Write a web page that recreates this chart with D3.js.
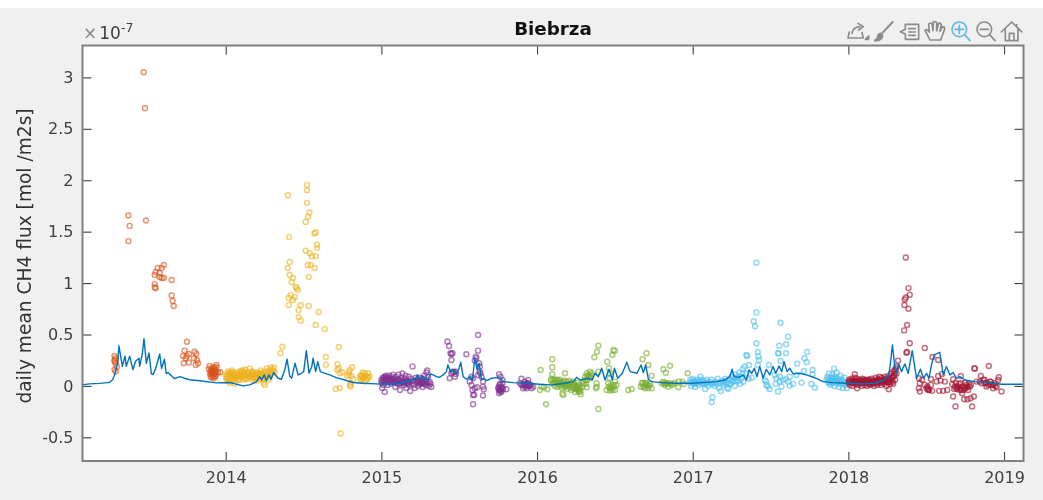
<!DOCTYPE html>
<html><head><meta charset="utf-8">
<script src="https://cdnjs.cloudflare.com/ajax/libs/d3/7.8.5/d3.min.js"></script>
<style>html,body{margin:0;padding:0;background:#fff;overflow:hidden}svg{display:block;filter:blur(0.4px)}text{font-family:"DejaVu Sans",sans-serif}</style>
</head><body><svg id="c" width="1043" height="500"></svg>
<script>
const title = "Biebrza";
const yLabel = "daily mean CH4 flux [mol /m2s]";
const xTicks = [2014,2015,2016,2017,2018,2019];
const yTicks = [-0.5,0,0.5,1,1.5,2,2.5,3];
const yTickLabels = ["-0.5","0","0.5","1","1.5","2","2.5","3"];
const seriesColors = ["#D95319","#EDB120","#7E2F8E","#77AC30","#4DBEEE","#A2142F"];

const modelFlux = [[13.075,.01],[13.126,.02],[13.19,.025],[13.254,.035],[13.274,.06],[13.287,.11],[13.296,.17],[13.306,.22],[13.314,.39],[13.336,.19],[13.353,.29],[13.361,.19],[13.383,.29],[13.404,.16],[13.421,.24],[13.443,.27],[13.447,.19],[13.464,.31],[13.475,.46],[13.49,.22],[13.507,.32],[13.522,.12],[13.533,.11],[13.55,.17],[13.576,.31],[13.588,.17],[13.606,.26],[13.618,.12],[13.629,.13],[13.651,.10],[13.672,.07],[13.704,.09],[13.768,.06],[13.833,.05],[13.94,.03],
[14.026,.033],[14.111,0],[14.154,.01],[14.197,.04],[14.218,.09],[14.231,.06],[14.248,.107],[14.261,.052],[14.278,.107],[14.291,.065],[14.308,.13],[14.336,.075],[14.358,.065],[14.379,.155],[14.394,.26],[14.411,.097],[14.424,.075],[14.445,.22],[14.465,.107],[14.486,.123],[14.501,.139],[14.518,.343],[14.535,.123],[14.553,.188],[14.561,.27],[14.578,.139],[14.591,.236],[14.608,.139],[14.625,.13],[14.668,.107],[14.711,.081],[14.765,.058],[14.818,.033],[14.882,.026],[14.968,.02],
[15.075,.016],[15.14,.033],[15.193,.058],[15.215,.065],[15.232,.107],[15.247,.065],[15.268,.097],[15.281,.065],[15.30,.065],[15.315,.117],[15.332,.107],[15.354,.09],[15.375,.084],[15.397,.107],[15.418,.139],[15.427,.204],[15.444,.139],[15.465,.155],[15.482,.123],[15.497,.162],[15.51,.23],[15.525,.09],[15.547,.065],[15.568,.09],[15.585,.058],[15.60,.269],[15.615,.155],[15.628,.22],[15.643,.058],[15.658,.074],[15.675,.052],[15.707,.074],[15.739,.081],[15.765,.074],[15.782,.042],[15.846,.032],[15.932,.026],
[16.018,.016],[16.094,.01],[16.18,.026],[16.233,.042],[16.255,.084],[16.276,.058],[16.308,.065],[16.33,.074],[16.355,.058],[16.373,.123],[16.394,.09],[16.415,.172],[16.437,.058],[16.462,.162],[16.484,.058],[16.497,.172],[16.518,.074],[16.548,.123],[16.576,.23],[16.598,.139],[16.625,.13],[16.642,.123],[16.668,.204],[16.683,.13],[16.698,.204],[16.715,.065],[16.737,.042],[16.801,.032],[16.887,.026],[16.994,.026],
[17.066,.032],[17.152,.042],[17.206,.058],[17.238,.09],[17.253,.162],[17.266,.09],[17.302,.084],[17.323,.107],[17.345,.058],[17.362,.155],[17.379,.123],[17.396,.172],[17.413,.09],[17.431,.188],[17.452,.074],[17.473,.162],[17.495,.107],[17.516,.188],[17.533,.123],[17.555,.194],[17.572,.139],[17.587,.236],[17.606,.139],[17.623,.172],[17.645,.117],[17.688,.123],[17.73,.107],[17.795,.074],[17.837,.042],[17.902,.032],[17.987,.026],
[18.084,.02],[18.17,.026],[18.234,.058],[18.26,.107],[18.27,.22],[18.283,.398],[18.298,.188],[18.311,.123],[18.324,.214],[18.341,.139],[18.363,.214],[18.384,.123],[18.41,.343],[18.438,.074],[18.463,.162],[18.483,.074],[18.502,.123],[18.517,.074],[18.534,.204],[18.551,.301],[18.587,.327],[18.609,.107],[18.63,.188],[18.652,.107],[18.673,.13],[18.695,.074],[18.716,.091],[18.748,.058],[18.812,.042],[18.898,.033],[18.984,.016],[19.12,.016]];

const obs2013 = [[.473,3.05],[.481,2.70],[.375,1.657],[.383,1.556],[.488,1.608],[.375,1.408],
[.55,1.107],[.563,1.146],[.544,1.078],[.589,1.146],[.602,1.175],[.576,1.097],[.602,1.05],[.544,.99],[.55,.95],[.544,.96],[.589,1.05],[.576,1.06],[.653,1.03],[.653,.88],[.659,.825],[.666,.777],
[.286,.29],[.293,.27],[.286,.24],[.293,.22],[.301,.19],[.286,.16],[.293,.14],[.286,.25],
[.751,.43],[.736,.343],[.726,.29],[.764,.31],[.743,.27],[.73,.22],[.764,.227],[.80,.333],[.811,.31],[.796,.27],[.815,.252],[.822,.22],[.807,.204],[.75,.29],
[.897,.194],[.94,.204],[.965,.133],[.908,.172],[.929,.162],[.918,.139],[.94,.139],[.908,.123],[.929,.117],[.914,.091],[.901,.139],[.923,.075],[.94,.181],[.95,.13],[.892,.162],[.91,.15],[.935,.098],[.925,.181],[.915,.11],[.905,.085],[.93,.14],[.92,.12],[.91,.13],[.90,.11],[.93,.09],[.92,.16]];

const obs2014 = [[.0,.10],[.005,.07],[.01,.12],[.012,.09],[.015,.14],[.02,.11],[.022,.06],[.025,.03],[.03,.10],[.032,.13],[.035,.08],[.04,.15],[.045,.09],[.05,.12],[.05,.06],[.055,.02],[.06,.10],[.065,.07],[.07,.13],[.075,.09],[.08,.11],[.085,.06],[.09,.14],[.095,.08],[.10,.12],[.105,.15],[.11,.09],[.115,.06],[.12,.12],[.125,.16],[.13,.10],[.135,.07],[.14,.13],[.145,.09],[.15,.11],[.155,.17],[.16,.08],[.165,.12],[.17,.06],[.175,.10],[.18,.13],[.185,.09],[.19,.07],[.195,.11],[.20,.05],[.205,.13],[.21,.09],[.215,.12],[.22,.07],[.225,.15],[.23,.10],[.235,.06],[.24,.13],[.245,.03],[.25,.01],[.255,.09],[.26,.14],[.265,.17],[.27,.11],[.275,.06],[.28,.15],[.285,.09],[.29,.18],[.295,.12],[.30,.16],[.305,.14],[.31,.18],[.315,.13],
[.008,.08],[.018,.05],[.028,.12],[.038,.07],[.048,.13],[.058,.08],[.068,.11],[.078,.06],[.088,.10],[.098,.13],[.108,.11],[.118,.14],[.128,.07],[.138,.11],[.148,.13],[.158,.10],[.168,.14],[.178,.08],[.188,.12],[.198,.08],[.208,.11],[.218,.09],[.228,.12],[.238,.10],[.248,.07],[.258,.11],[.268,.08],[.278,.12],
[.5225,1.955],[.5225,1.903],[.40,1.854],[.5225,1.78],[.538,1.686],[.529,1.644],[.514,1.595],[.578,1.495],[.57,1.482],[.407,1.447],[.587,1.372],[.587,1.34],[.514,1.314],[.54,1.29],[.578,1.262],[.553,1.262],[.411,1.204],[.398,1.146],[.527,1.175],[.572,1.146],[.546,1.175],[.411,1.078],[.533,1.058],[.431,1.049],[.45,.961],[.463,.932],[.424,1.01],[.418,.883],[.443,.864],[.431,.835],[.405,.854],[.456,.951],[.405,.786],[.469,.738],[.482,.786],[.533,.777],[.598,.718],[.469,.67],
[.364,.38],[.353,.317],[.482,.634],[.578,.592],[.636,.553],[.726,.379],[.643,.282],[.643,.207],[.738,-.463],[.706,-.03],[.732,-.02],
[.718,.21],[.718,.155],[.733,.123],[.748,.133],[.797,.155],[.812,.181],[.793,.107],[.808,.091],[.819,.065],[.801,.026],[.801,-.006],[.801,.01],[.872,.107],[.893,.123],[.915,.123],[.872,.058],[.904,.058],[.887,.084],[.923,.091],[.861,.074],[.893,.042],[.78,.10],[.79,.13],[.725,.175],[.88,.13],[.91,.09],[.865,.10],[.90,.10],[.88,.07],[.875,.09],[.915,.075]];

const obs2015 = [[.621,.495],[.424,.431],[.435,.388],[.444,.317],[.45,.311],[.457,.317],[.546,.307],[.621,.343],[.606,.285],[.61,.269],[.60,.246],[.628,.22],[.45,.252],[.457,.139],[.45,.123],[.465,.139],[.478,.139],[.439,.074],[.472,.09],[.478,.117],[.632,.188],[.632,.139],[.636,.123],[.643,.09],[.653,.042],[.653,-.007],[.658,-.033],[.621,.107],[.579,.09],[.589,.074],[.568,.042],[.579,.009],[.585,-.039],[.60,-.023],[.615,-.013],[.589,-.088],[.596,-.088],[.653,-.094],[.589,-.178],[.756,.113],[.765,.09],[.778,.058],[.76,.009],[.771,-.007],[.75,-.023],[.756,-.039],[.803,-.033],[.782,-.033],[.765,-.055],[.778,.026],[.756,-.072],[.77,-.06],[.76,-.03],[.755,-.01],[.768,-.04],[.775,-.02],[.762,.02],
[.0,.03],[.0,.06],[.005,-.02],[.01,.08],[.012,.01],[.015,.05],[.02,.09],[.022,-.06],[.025,.03],[.03,.10],[.035,.06],[.04,.01],[.042,.08],[.045,.04],[.05,.10],[.055,.06],[.06,.02],[.065,.09],[.07,.05],[.075,.11],[.08,.03],[.085,.07],[.09,-.01],[.095,.09],[.10,.05],[.105,.02],[.11,.11],[.115,.06],[.12,-.04],[.125,.03],[.13,.08],[.135,.12],[.14,.04],[.145,.01],[.15,.07],[.155,.10],[.16,-.02],[.165,.05],[.17,.02],[.175,.09],[.18,.04],[.185,-.05],[.19,.07],[.195,.02],[.20,.19],[.205,.05],[.21,.01],[.215,-.02],[.22,.08],[.225,.04],[.23,.06],[.235,.0],[.24,.03],[.245,.08],[.25,.05],[.255,.02],[.26,.07],[.265,-.01],[.27,.04],[.275,.10],[.28,.06],[.285,.01],[.29,.13],[.295,.15],[.30,.09],[.305,.0],[.31,.04],[.315,.02],[.32,-.01],
[.008,.05],[.018,.07],[.028,.08],[.038,.05],[.048,.07],[.058,.05],[.068,.07],[.078,.06],[.088,.04],[.098,.03],[.108,.06],[.118,.02],[.128,.05],[.138,.03],[.148,.04],[.158,.03],[.168,.03],[.178,.01],[.238,.05],[.248,.02],[.258,.04],[.268,.03],[.278,.02],[.288,.04],[.298,.03],
[.90,.07],[.943,.058],[.90,.009],[.922,-.007],[.933,-.023],[.954,.009],[.975,-.007],[.911,-.023],[.943,.026],[.89,.026],[.922,.042],[.965,-.023],[.933,.026],[.91,.01],[.95,.0],[.928,.01],[.94,.0],[.92,.015],[.96,.01]];

const obs2016 = [[.023,.155],[.098,.259],[.098,.181],[.098,.116],[.18,.123],[.09,.064],[.058,-.179],[.394,.392],[.385,.333],[.368,.278],[.49,.35],[.50,.343],[.484,.301],[.451,.236],[.462,.171],[.468,.123],[.394,.139],[.394,-.224],[.704,.317],[.678,.259],[.715,.204],[.736,.10],[.854,.197],[.811,.162],[.828,.129],[.967,.123],
[.163,-.075],[.169,-.088],[.066,-.033],[.019,-.039],[.045,-.013],[.03,-.007],
[.319,.123],[.34,.139],[.33,.107],[.308,.09],[.351,.123],[.319,.058],[.319,-.013],[.383,-.007],[.383,.026],[.379,-.023],[.297,.042],[.34,.074],[.335,.09],[.325,.10],[.345,.10],[.31,.06],[.30,.02],[.29,-.01],[.315,.02],
[.468,.074],[.5,.042],[.475,.009],[.447,-.039],[.5,-.039],[.479,-.023],[.49,-.007],[.468,-.045],[.511,.009],[.458,.026],[.47,-.02],[.485,-.04],[.495,.01],[.46,-.01],
[.586,-.039],[.608,-.029],[.668,-.007],[.694,.026],[.715,-.023],[.736,-.023],[.683,-.007],[.704,.009],[.726,.019],[.672,.026],[.694,-.023],[.68,.03],[.70,.03],[.72,.0],[.69,.0],[.71,.01],
[.811,.042],[.832,.026],[.854,.026],[.886,.032],[.907,-.013],[.911,.042],[.933,.042],[.822,.009],[.865,.009],[.94,.019],[.843,-.007],[.8,.026],[.825,.03],[.84,.02],[.815,.02],[.875,.02],
[.09,.05],[.10,.02],[.11,.04],[.115,.0],[.12,.06],[.125,.03],[.13,-.01],[.135,.05],[.14,.02],[.145,.06],[.15,.0],[.155,.03],[.16,-.02],[.165,.04],[.17,.01],[.175,.05],[.18,-.01],[.185,.02],[.19,.04],[.195,-.03],[.20,.01],[.205,.05],[.21,-.01],[.215,.03],[.22,-.04],[.225,.01],[.23,.04],[.235,-.02],[.24,.02],[.245,-.06],[.25,.0],[.255,-.03],[.26,.03],[.265,-.05],[.27,.01],[.275,-.02],[.28,-.08],[.105,.06],[.118,.03],[.128,.06],[.138,.01],[.148,.03],[.168,.02],[.188,.0],[.208,.02],[.228,-.02],[.238,.0],[.248,-.03],[.258,.0],[.268,-.03],[.272,-.06],[.278,-.05]];

const obs2017 = [[.409,1.197],[.409,.715],[.392,.628],[.401,.58],[.564,.615],[.409,.414],[.613,.479],[.556,.391],[.60,.405],[.735,.33],[.552,.317],[.548,.317],[.60,.317],[.418,.33],[.345,.301],[.35,.29],[.422,.285],[.426,.252],[.718,.269],[.733,.23],[.671,.216],[.49,.204],[.418,.204],[.362,.204],[.564,.243],[.334,.188],[.323,.165],[.77,.155],[.714,.146],[.908,.168],[.77,.113],[.784,-.017],[.763,.019],[.699,.032],[.666,.107],[.645,.02],[.623,.003],[.57,-.006],[.548,-.055],[.533,.02],[.473,.042],[.483,-.006],[.494,-.03],[.127,-.11],[.122,-.158],[.559,.09],[.58,.058],[.538,.074],[.559,.042],[.598,.064],[.623,.09],[.613,.042],[.527,.106],[.463,.058],[.473,.01],
[-.02,.03],[-.015,.06],[-.01,.0],[-.005,.04],[.0,.07],[.005,.02],[.01,.05],[.015,-.01],[.02,.03],[.03,.06],[.04,.01],[.045,.04],[.05,.09],[.055,.06],[.06,.02],[.07,.05],[.08,-.03],[.085,.03],[.09,.06],[.10,.0],[.11,.04],[.12,.06],[.13,.02],[.14,.0],[.15,.04],[.16,.07],[.17,-.02],[.175,.03],[.18,-.05],[.19,.05],[.20,.01],[.205,.04],[.21,.07],[.22,-.02],[.225,.03],[.23,-.03],[.24,.06],[.245,.02],[.25,.09],[.26,.04],[.265,.08],[.27,.0],[.275,.11],[.28,.05],[.29,.09],[.30,.13],[.305,.02],[.31,.07],[.32,.12],[.325,.04],[.345,.12],[.38,.08],[.36,.07],[.008,.03],[.025,.02],[.035,.04],[.065,.03],[.075,.02],[.095,.03],[.115,.02],[.135,.03],[.155,.02],[.195,.03],[.215,.03],[.235,.02],[.255,.05],[.285,.08],[.295,.05],
[.86,.06],[.865,.09],[.87,.03],[.875,.12],[.88,.05],[.885,.01],[.89,.08],[.895,.11],[.90,.03],[.905,.06],[.91,.0],[.915,.09],[.92,.04],[.925,.13],[.93,.02],[.935,.07],[.94,-.01],[.945,.05],[.95,.10],[.955,.02],[.96,.06],[.965,-.02],[.97,.04],[.975,.08],[.98,.01],[.985,.03],[.99,-.02],[.872,.07],[.882,.03],[.892,.05],[.902,.08],[.912,.05],[.922,.07],[.932,.05],[.942,.03]];

const obs2018 = [[.369,1.249],[.386,.951],[.394,.886],[.369,.86],[.362,.841],[.36,.786],[.386,.75],[.377,.592],[.358,.54],[.394,.414],[.377,.33],[.373,.323],[.319,.246],[.491,.368],[.54,.281],[.577,.252],[.81,.171],[.902,.194],
[.309,.188],[.298,.155],[.041,.113],[.056,-.022],[.26,-.033],
[.453,.074],[.459,.026],[.453,-.022],[.459,-.055],[.491,.01],[.474,.058],[.508,-.006],[.53,.068],[.513,-.039],[.538,-.048],[.502,-.022],[.53,.01],[.566,.042],[.577,.097],[.602,.117],[.592,.052],[.62,.042],[.583,-.048],[.609,-.048],[.635,-.039],[.673,.065],[.667,.016],[.722,.097],[.722,.026],[.812,.168],[.984,-.055],[.967,.084],[.851,.097],[.688,-.2],[.795,-.2],[.744,-.129],[.765,-.129],[.785,-.12],[.806,-.103],[.673,-.103],[.695,-.022],[.716,-.039],[.731,-.071],[.748,-.022],[.77,-.039],[.787,.01],[.684,-.006],[.705,-.006],[.737,-.006],[.759,.01],[.78,-.006],[.727,-.039],[.69,.03],[.71,.02],[.75,.03],[.775,.02],[.70,-.03],[.72,-.02],[.74,-.04],[.755,-.02],[.765,-.01],[.68,-.03],[.51,-.03],[.52,-.04],
[.844,.042],[.866,.058],[.877,.026],[.898,.01],[.92,.01],[.941,.026],[.93,-.022],[.952,-.013],[.887,-.006],[.855,.026],[.909,.042],[.823,.042],[.962,.058],[.875,.06],[.915,.04],[.885,.03],[.905,.02],[.93,.01],[.945,.0],
[.0,.03],[.005,.06],[.01,.01],[.015,.04],[.02,.07],[.025,.0],[.03,.03],[.035,.05],[.04,.08],[.045,.02],[.05,.05],[.055,.07],[.06,.01],[.065,.03],[.07,.06],[.075,.02],[.08,.04],[.085,.0],[.09,.07],[.095,.03],[.10,.05],[.105,.01],[.11,.03],[.115,.06],[.12,.0],[.125,.04],[.13,.02],[.135,.06],[.14,.01],[.145,.04],[.15,.07],[.155,.02],[.16,.05],[.165,.0],[.17,.03],[.175,.08],[.18,.05],[.185,.01],[.19,.07],[.195,.03],[.20,.09],[.205,.05],[.21,.01],[.215,.08],[.22,.04],[.225,.06],[.23,.02],[.235,.09],[.24,.05],[.245,.0],[.25,.07],[.255,.03],[.26,.1],[.265,.06],[.27,.02],[.275,.12],[.28,.08],[.285,.04],[.29,.14],[.295,.1],[.30,.06],[.305,.17],[.31,.12],
[.008,.05],[.018,.03],[.028,.05],[.038,.03],[.048,.04],[.058,.04],[.068,.04],[.078,.05],[.088,.03],[.098,.06],[.108,.05],[.118,.03],[.128,.06],[.138,.04],[.148,.02],[.158,.03],[.168,.05],[.178,.03],[.188,.05],[.198,.06],[.208,.03],[.218,.05],[.228,.04],[.238,.07],[.248,.04],[.258,.07],[.268,.04],[.278,.06],[.288,.09],[.298,.12],[.288,.02]];

const observed = [[2013,obs2013],[2014,obs2014],[2015,obs2015],[2016,obs2016],[2017,obs2017],[2018,obs2018]];

const W = 1043, H = 500;
const m = {l:82.5, r:1023.5, t:45.5, b:461};
const svg = d3.select("#c");
svg.append("rect").attr("x",-2).attr("y",8).attr("width",W+4).attr("height",H).attr("fill","#f0f0f0");
svg.append("rect").attr("x",m.l).attr("y",m.t).attr("width",m.r-m.l).attr("height",m.b-m.t).attr("fill","#fff");

const x = d3.scaleLinear().domain([2013.08,2019.125]).range([m.l,m.r]);
const y = d3.scaleLinear().domain([-0.73,3.31]).range([m.b,m.t]);

const plot = svg.append("g");
observed.forEach(([yr,pts],i)=>{
  plot.append("g").selectAll("circle").data(pts).join("circle")
    .attr("cx",d=>x(yr+d[0])).attr("cy",d=>y(d[1])).attr("r",2.5)
    .attr("fill","none").attr("stroke",seriesColors[i]).attr("stroke-width",1.45).attr("stroke-opacity",.62);
});
const line = d3.line().x(d=>x(2000+d[0])).y(d=>y(d[1]));
plot.append("path").attr("d",line(modelFlux)).attr("fill","none").attr("stroke","#0072BD").attr("stroke-width",1.4).attr("stroke-linejoin","round");

const tickCol="#404040", boxCol="#808080", textCol="#404040";
const axB = d3.axisBottom(x).tickValues(xTicks).tickFormat(d3.format("d")).tickSize(-9).tickPadding(10.5);
const axT = d3.axisTop(x).tickValues(xTicks).tickFormat("").tickSize(-9);
const axL = d3.axisLeft(y).tickValues(yTicks).tickFormat((d,i)=>yTickLabels[i]).tickSize(-9).tickPadding(9);
const axR = d3.axisRight(y).tickValues(yTicks).tickFormat("").tickSize(-9);
[[axB,`translate(0,${m.b})`],[axT,`translate(0,${m.t})`],[axL,`translate(${m.l},0)`],[axR,`translate(${m.r},0)`]].forEach(([a,t])=>{
  const g = svg.append("g").attr("transform",t).call(a);
  g.select(".domain").remove();
  g.selectAll("line").attr("stroke",tickCol).attr("stroke-width",1.1);
  g.selectAll("text").attr("fill",textCol).style("font-size","16px").style("font-family",'"DejaVu Sans",sans-serif');
});
svg.append("rect").attr("x",m.l).attr("y",m.t).attr("width",m.r-m.l).attr("height",m.b-m.t).attr("fill","none").attr("stroke",boxCol).attr("stroke-width",2);

svg.append("text").attr("x",553).attr("y",35).attr("text-anchor","middle").attr("font-weight","bold").attr("font-size",18.3).attr("fill","#111").text(title);
svg.append("text").attr("transform","translate(31,256) rotate(-90)").attr("text-anchor","middle").attr("font-size",18.6).attr("fill","#333").text(yLabel);
const exp = svg.append("text").attr("x",83).attr("y",39).attr("fill",textCol).attr("font-size",17);
exp.append("tspan").text("\u00d7").attr("fill","#888");
exp.append("tspan").attr("dx",2).text("10");
exp.append("tspan").attr("dy",-7).attr("font-size",12.5).text("-7");

const tb = svg.append("g").attr("transform","translate(830,10) scale(0.3333)").attr("fill","none").attr("stroke","#8c8c8c").attr("stroke-width",5).attr("stroke-linecap","round").attr("stroke-linejoin","round");
tb.append("path").attr("d","M58 66 L54 84 L100 84 L96 68 M66 70 Q68 52 90 50 M84 40 L100 50 L86 60");
tb.append("path").attr("d","M106 88 L116 88 L116 78 Z").attr("fill","#8c8c8c");
tb.append("path").attr("d","M188 36 L158 68").attr("stroke-width",6);
tb.append("path").attr("d","M152 70 Q160 74 156 84 Q148 94 134 92 Q144 84 144 76 Q146 70 152 70 Z").attr("fill","#8c8c8c");
tb.append("path").attr("d","M226 43 L266 43 L266 88 L226 88 L226 72 L211 65 L226 58 Z M236 56 L256 56 M236 66 L256 66 M236 76 L256 76");
tb.append("path").attr("d","M300 90 Q292 72 285 62 Q288 54 298 66 L296 42 Q302 36 306 42 L309 62 L310 36 Q316 32 320 38 L320 62 L326 40 Q332 38 334 44 L330 64 L338 50 Q345 50 344 58 Q338 74 332 90 Z");
const zoomG = (cx,col,plus)=>{
  const g = tb.append("g").attr("stroke",col);
  g.append("circle").attr("cx",cx).attr("cy",58).attr("r",22);
  g.append("path").attr("d",`M${cx+16} 74 L${cx+32} 92`);
  g.append("path").attr("d",plus?`M${cx-12} 58 H${cx+12} M${cx} 46 V70`:`M${cx-12} 58 H${cx+12}`);
};
zoomG(388,"#62b7ea",true);
zoomG(463,"#8c8c8c",false);
tb.append("path").attr("d","M514 66 L545 36 L576 66 M526 58 V92 H564 V58 M538 92 V70 H552 V92 M560 44 V52");
</script></body></html>
